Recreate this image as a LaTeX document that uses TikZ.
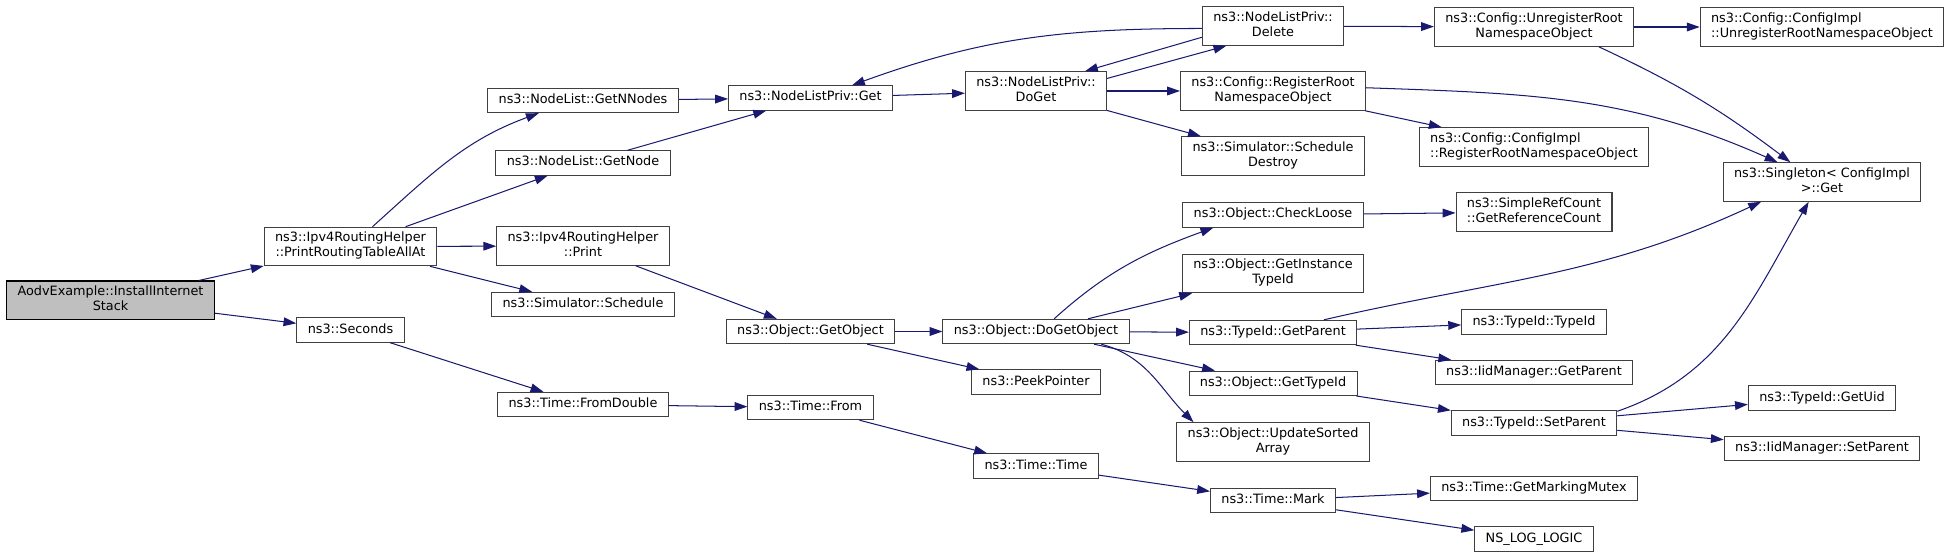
\documentclass[tikz,border=0pt]{standalone}
\usepackage{fontspec}
\setmainfont{DejaVu Sans}
\usetikzlibrary{arrows.meta}
\definecolor{midnight}{HTML}{191970}
\definecolor{grey25}{HTML}{404040}
\definecolor{grey75}{HTML}{BFBFBF}

\begin{document}
\begin{tikzpicture}[
    x=0.78pt, y=-0.78pt,
    func/.style={draw=grey25, fill=white, line width=0.8pt, font=\fontsize{10}{11.7}\selectfont,
        inner xsep=8.5pt, inner ysep=3.65pt, align=center,
        execute at begin node=\strut, execute at end node=\strut},
    root func/.style={func, draw=black, fill=grey75},
    left func/.style={func, align=left},
    call edge/.style={midnight, line width=0.8pt, -{Triangle[length=10pt, width=6.8pt]}}
]
\useasboundingbox (0,0) rectangle (1951,558);

% Rank 0
\node[root func] (root) at (110.5, 300.3) {AodvExample::InstallInternet\\Stack};

% Rank 1
\node[func] (prtaa) at (350.5, 246.5) {ns3::Ipv4RoutingHelper\\::PrintRoutingTableAllAt};
\node[func] (seconds) at (350.5, 330) {ns3::Seconds};

% Rank 2
\node[func] (getnnodes) at (583, 100.5) {ns3::NodeList::GetNNodes};
\node[func] (getnode) at (583, 163) {ns3::NodeList::GetNode};
\node[func] (print) at (583, 246) {ns3::Ipv4RoutingHelper\\::Print};
\node[func] (schedule) at (583, 304.5) {ns3::Simulator::Schedule};
\node[func] (fromdouble) at (583, 404.5) {ns3::Time::FromDouble};

% Rank 3
\node[func] (privget) at (810.5, 98) {ns3::NodeListPriv::Get};
\node[func] (getobject) at (810.5, 331.5) {ns3::Object::GetObject};
\node[func] (timefrom) at (810.5, 407.5) {ns3::Time::From};

% Rank 4
\node[func] (doget) at (1036, 91) {ns3::NodeListPriv::\\DoGet};
\node[func] (dogetobject) at (1036, 331.5) {ns3::Object::DoGetObject};
\node[func] (peekpointer) at (1036, 382) {ns3::PeekPointer};
\node[func] (timetime) at (1036, 466) {ns3::Time::Time};

% Rank 5
\node[func] (delete) at (1273, 26) {ns3::NodeListPriv::\\Delete};
\node[func] (regroot) at (1273, 91) {ns3::Config::RegisterRoot\\NamespaceObject};
\node[func] (destroy) at (1273, 156) {ns3::Simulator::Schedule\\Destroy};
\node[func] (checkloose) at (1273, 215) {ns3::Object::CheckLoose};
\node[func] (instanceid) at (1273, 273.5) {ns3::Object::GetInstance\\TypeId};
\node[func] (getparent) at (1273, 332.5) {ns3::TypeId::GetParent};
\node[func] (gettypeid) at (1273, 383.3) {ns3::Object::GetTypeId};
\node[func] (updsorted) at (1273, 442) {ns3::Object::UpdateSorted\\Array};
\node[func] (mark) at (1273, 500.5) {ns3::Time::Mark};

% Rank 6
\node[func] (unregroot) at (1534, 27) {ns3::Config::UnregisterRoot\\NamespaceObject};
\node[left func] (implreg) at (1534, 147) {ns3::Config::ConfigImpl\\::RegisterRootNamespaceObject};
\node[func] (refcount) at (1534, 212) {ns3::SimpleRefCount\\::GetReferenceCount};
\node[func] (typeidctor) at (1534, 322) {ns3::TypeId::TypeId};
\node[func] (iidgetparent) at (1534, 372.5) {ns3::IidManager::GetParent};
\node[func] (setparent) at (1534, 423) {ns3::TypeId::SetParent};
\node[func] (mutex) at (1534, 488.3) {ns3::Time::GetMarkingMutex};
\node[func] (nslog) at (1534, 539) {NS\_LOG\_LOGIC};

% Rank 7
\node[left func] (implunreg) at (1822, 27) {ns3::Config::ConfigImpl\\::UnregisterRootNamespaceObject};
\node[func] (singleton) at (1822, 182) {ns3::Singleton< ConfigImpl\\>::Get};
\node[func] (getuid) at (1822, 398) {ns3::TypeId::GetUid};
\node[func] (iidsetparent) at (1822, 448.3) {ns3::IidManager::SetParent};

% Calls from the root
\draw[call edge] (root) -- (prtaa);
\draw[call edge] (root) -- (seconds);

\draw[call edge] (prtaa.42) to[out=42, in=200] (getnnodes.196);
\draw[call edge] (prtaa) -- (getnode);
\draw[call edge] (prtaa) -- (print);
\draw[call edge] (prtaa) -- (schedule);
\draw[call edge] (seconds) -- (fromdouble);

\draw[call edge] (getnnodes) -- (privget);
\draw[call edge] (getnode) -- (privget);
\draw[call edge] (print) -- (getobject);
\draw[call edge] (fromdouble) -- (timefrom);

% Node list
\draw[call edge] (privget) -- (doget);
\draw[call edge] (doget.10) -- (delete.203);
\draw[call edge] (delete.189) -- (doget.22);
\draw[call edge] (delete.182) to[out=180, in=20] (privget.17);
\draw[call edge] (doget) -- (regroot);
\draw[call edge] (doget) -- (destroy);
\draw[call edge] (delete) -- (unregroot);
\draw[call edge] (unregroot) -- (implunreg);
\draw[call edge] (unregroot.-17) to[out=-25, in=143] (singleton.148);
\draw[call edge] (regroot.2) to[out=-2, in=156] (singleton.156);
\draw[call edge] (regroot) -- (implreg);

% Objects
\draw[call edge] (getobject) -- (dogetobject);
\draw[call edge] (getobject) -- (peekpointer);
\draw[call edge] (dogetobject.35) to[out=42, in=200] (checkloose.192);
\draw[call edge] (dogetobject) -- (instanceid);
\draw[call edge] (dogetobject) -- (getparent);
\draw[call edge] (dogetobject) -- (gettypeid);
\draw[call edge] (dogetobject.-11) to[out=-15, in=135] (updsorted.166);
\draw[call edge] (checkloose) -- (refcount);

% Type ids
\draw[call edge] (getparent.14) to[out=13, in=205] (singleton.198);
\draw[call edge] (getparent) -- (typeidctor);
\draw[call edge] (getparent) -- (iidgetparent);
\draw[call edge] (gettypeid) -- (setparent);
\draw[call edge] (setparent.8) to[out=19, in=240] (singleton.236);
\draw[call edge] (setparent) -- (getuid);
\draw[call edge] (setparent) -- (iidsetparent);

% Time
\draw[call edge] (timefrom) -- (timetime);
\draw[call edge] (timetime) -- (mark);
\draw[call edge] (mark) -- (mutex);
\draw[call edge] (mark) -- (nslog);

\end{tikzpicture}
\end{document}
